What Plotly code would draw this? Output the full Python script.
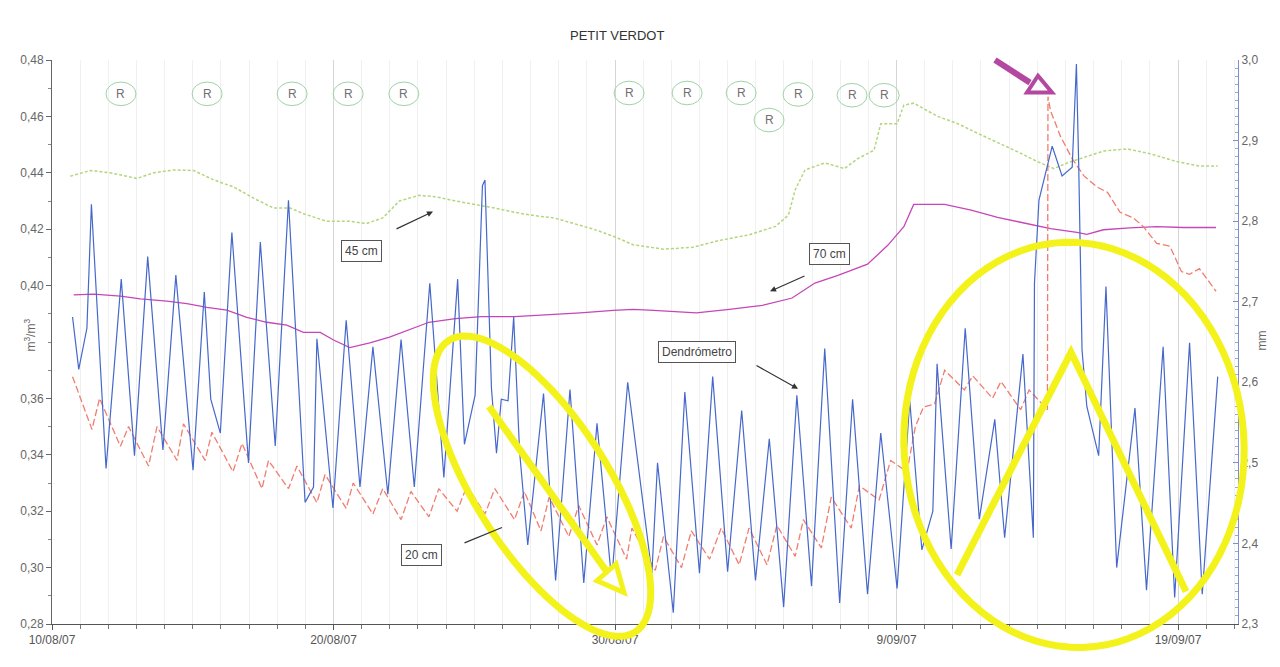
import math
import pandas as pd
import plotly.graph_objects as go

BASE = pd.Timestamp("2007-08-10")

# ---- Dendrómetro (mm, right axis): days after 10/08/07, value ----
dendro_days = [0.73, 0.95, 1.24, 1.40, 1.92, 2.46, 2.93, 3.40, 3.94, 4.40, 5.01, 5.41, 5.64, 5.98,
               6.39, 6.98, 7.40, 7.93, 8.40, 8.99, 9.29, 9.41, 9.98, 10.45, 10.94, 11.40, 11.93,
               12.40, 12.87, 13.42, 13.92, 14.41, 14.65, 15.03, 15.29, 15.38, 15.61, 15.79, 15.96,
               16.20, 16.40, 16.61, 16.90, 17.46, 17.89, 18.40, 18.89, 19.36, 19.88, 20.45, 21.31,
               21.51, 22.07, 22.48, 23.00, 23.47, 24.00, 24.50, 24.99, 25.48, 25.99, 26.46, 26.98,
               27.45, 27.98, 28.44, 28.97, 29.44, 30.02, 30.47, 30.90, 31.29, 31.44, 31.94, 32.44,
               32.94, 33.49, 33.84, 34.49, 34.86, 34.90, 35.06, 35.53, 35.88, 36.24, 36.39, 36.47,
               36.59, 36.76, 37.18, 37.44, 37.82, 38.47, 38.88, 39.47, 39.88, 40.41, 40.86, 41.41]
dendro_mm = [2.681, 2.616, 2.667, 2.821, 2.493, 2.728, 2.509, 2.756, 2.516, 2.733, 2.491, 2.712, 2.579, 2.537,
             2.786, 2.500, 2.774, 2.521, 2.826, 2.451, 2.470, 2.654, 2.444, 2.677, 2.470, 2.644, 2.461,
             2.653, 2.470, 2.723, 2.482, 2.728, 2.523, 2.584, 2.844, 2.851, 2.593, 2.512, 2.579,
             2.577, 2.681, 2.514, 2.398, 2.586, 2.354, 2.591, 2.351, 2.549, 2.354, 2.600, 2.363,
             2.500, 2.314, 2.588, 2.363, 2.607, 2.365, 2.565, 2.354, 2.530, 2.321, 2.584, 2.347,
             2.642, 2.326, 2.579, 2.337, 2.537, 2.344, 2.577, 2.392, 2.440, 2.623, 2.393, 2.667,
             2.430, 2.554, 2.407, 2.635, 2.407, 2.723, 2.826, 2.893, 2.856, 2.867, 2.995, 2.872,
             2.640, 2.570, 2.509, 2.719, 2.370, 2.568, 2.342, 2.644, 2.333, 2.649, 2.337, 2.607]

# ---- 20 cm (m3/m3) ----
s20_days = [0.73, 1.42, 1.69, 2.43, 2.72, 3.43, 3.73, 4.44, 4.67, 5.44, 5.68, 6.43, 6.75, 7.46, 7.69,
            8.40, 8.70, 9.41, 9.70, 10.45, 10.70, 11.40, 11.75, 12.40, 12.75, 13.39, 13.74, 14.39,
            14.74, 15.38, 15.73, 16.43, 16.78, 17.37, 17.66, 18.36, 18.71, 19.36, 19.71, 20.41,
            20.60, 21.43, 21.72, 22.36, 22.71, 23.36, 23.77, 24.41, 24.76, 25.40, 25.75, 26.40,
            26.69, 27.33, 27.68, 28.39, 28.68, 29.38, 29.79, 30.37, 30.67, 30.96, 31.35, 31.71,
            32.41, 32.71, 33.41, 33.71, 34.41, 34.71, 35.36, 35.38, 35.47, 35.82, 36.24, 36.65,
            37.12, 37.50, 37.94, 38.41, 38.76, 39.24, 39.71, 40.12, 40.41, 40.76, 41.35]
s20_val = [0.3677, 0.349, 0.360, 0.343, 0.350, 0.336, 0.350, 0.338, 0.351, 0.338, 0.348, 0.334, 0.344, 0.328, 0.338,
           0.328, 0.336, 0.323, 0.333, 0.321, 0.330, 0.319, 0.328, 0.317, 0.327, 0.318, 0.328, 0.320,
           0.329, 0.319, 0.328, 0.317, 0.327, 0.313, 0.325, 0.311, 0.322, 0.308, 0.318, 0.303,
           0.314, 0.299, 0.311, 0.300, 0.313, 0.303, 0.314, 0.301, 0.314, 0.301, 0.315, 0.304,
           0.317, 0.307, 0.325, 0.314, 0.329, 0.324, 0.338, 0.334, 0.350, 0.357, 0.358, 0.370,
           0.363, 0.368, 0.360, 0.366, 0.356, 0.363, 0.356, 0.467, 0.462, 0.453, 0.445, 0.439,
           0.435, 0.433, 0.426, 0.424, 0.421, 0.415, 0.414, 0.405, 0.404, 0.406, 0.398]

# ---- 45 cm ----
s45_days = [0.65, 1.36, 2.07, 3.02, 3.61, 4.32, 5.03, 5.74, 6.45, 7.16, 7.87, 8.46, 8.93, 9.76, 10.58,
            11.17, 11.75, 12.34, 13.04, 13.63, 14.33, 15.03, 15.73, 16.43, 17.13, 17.84, 18.54, 19.24,
            19.94, 20.64, 21.72, 22.77, 23.71, 24.76, 25.70, 26.16, 26.40, 26.75, 27.45, 28.15, 28.62,
            29.20, 29.44, 30.02, 30.26, 30.61, 31.46, 32.18, 32.88, 33.59, 34.29, 35.00, 35.59, 36.06,
            36.65, 37.35, 38.18, 39.00, 39.94, 40.76, 41.41]
s45_val = [0.4388, 0.4408, 0.440, 0.438, 0.440, 0.441, 0.4408, 0.4375, 0.435, 0.431, 0.4275, 0.4275, 0.4255, 0.4228, 0.4228,
           0.422, 0.424, 0.430, 0.432, 0.4315, 0.430, 0.4288, 0.4275, 0.426, 0.4248, 0.424, 0.422, 0.420,
           0.4175, 0.4145, 0.4129, 0.4136, 0.416, 0.418, 0.421, 0.425, 0.434, 0.441, 0.4435, 0.4415, 0.445,
           0.448, 0.4574, 0.4574, 0.464, 0.4647, 0.460, 0.4574, 0.454, 0.4508, 0.4475, 0.444, 0.4415, 0.4435,
           0.4455, 0.4477, 0.4485, 0.4468, 0.444, 0.4424, 0.4424]

# ---- 70 cm ----
s70_days = [0.77, 1.48, 2.43, 3.14, 4.08, 4.79, 5.50, 6.21, 6.92, 7.63, 8.34, 8.93, 9.53, 10.00, 10.58,
            11.29, 11.99, 12.69, 13.39, 14.33, 15.26, 16.43, 17.60, 18.77, 19.94, 20.64, 21.37, 22.89,
            24.06, 25.23, 26.29, 27.10, 27.92, 28.97, 29.68, 30.26, 30.61, 30.96, 31.71, 32.65, 33.59,
            34.53, 35.47, 36.41, 36.76, 37.35, 38.29, 39.24, 40.18, 41.35]
s70_val = [0.3967, 0.397, 0.3963, 0.3953, 0.3945, 0.3936, 0.3923, 0.3913, 0.3887, 0.387, 0.386, 0.3834, 0.3834, 0.3807, 0.378,
           0.3797, 0.3817, 0.3843, 0.387, 0.3883, 0.389, 0.389, 0.3896, 0.3903, 0.3912, 0.3916, 0.3912, 0.3903,
           0.3916, 0.393, 0.3956, 0.4009, 0.4036, 0.4076, 0.4142, 0.4209, 0.4288, 0.4288, 0.4288, 0.4268, 0.4242,
           0.4222, 0.4202, 0.4189, 0.4182, 0.4198, 0.4205, 0.4209, 0.4206, 0.4206]

# ---- "R" events (days after 10/08/07) and their row level (m3/m3) ----
r_days = [2.45, 5.51, 8.53, 10.52, 12.50, 20.50, 22.56, 24.48, 25.47, 26.50, 28.42, 29.56]
r_level = [0.468, 0.468, 0.468, 0.468, 0.468, 0.4683, 0.4683, 0.4683, 0.4587, 0.4678, 0.4675, 0.4675]

x_tick_dates = ["2007-08-10", "2007-08-20", "2007-08-30", "2007-09-09", "2007-09-19"]
x_tick_text = ["10/08/07", "20/08/07", "30/08/07", "9/09/07", "19/09/07"]
left_ticks = [0.28, 0.30, 0.32, 0.34, 0.36, 0.40, 0.42, 0.44, 0.46, 0.48]
left_tick_text = ["0,28", "0,30", "0,32", "0,34", "0,36", "0,40", "0,42", "0,44", "0,46", "0,48"]
right_ticks = [2.3, 2.4, 2.5, 2.6, 2.7, 2.8, 2.9, 3.0]
right_tick_text = ["2,3", "2,4", "2,5", "2,6", "2,7", "2,8", "2,9", "3,0"]


def to_dates(days):
    return BASE + pd.to_timedelta(days, unit="D")


FONT = "Liberation Sans, Arial, sans-serif"
PAGE_OFF = 8  # default body margin of the page
W, H = 1280 - 2 * PAGE_OFF, 667 - 2 * PAGE_OFF
L, R, T, B = 52, 1238, 60, 633  # plot area in screen pixels


def px(x):
    return (x - L) / (R - L)


def py(y):
    return (B - y) / (B - T)


fig = go.Figure()
fig.add_trace(go.Scatter(x=to_dates(s70_days), y=s70_val, mode="lines",
                         line=dict(color="#c646b8", width=1.3), name="70 cm"))
fig.add_trace(go.Scatter(x=to_dates(s45_days), y=s45_val, mode="lines",
                         line=dict(color="#b3d67c", width=1.5, dash="3px,2px"), name="45 cm"))
fig.add_trace(go.Scatter(x=to_dates(s20_days), y=s20_val, mode="lines",
                         line=dict(color="#f07d6e", width=1.3, dash="7px,3px"), name="20 cm"))
fig.add_trace(go.Scatter(x=to_dates(dendro_days), y=dendro_mm, mode="lines", yaxis="y2",
                         line=dict(color="#4668cb", width=1.2), name="Dendrómetro"))

shapes = []
annotations = []


def ann(x, y, text, **kw):
    d = dict(x=px(x), y=py(y), xref="paper", yref="paper", text=text, showarrow=False,
             xanchor="center", yanchor="middle")
    d.update(kw)
    annotations.append(d)


# R circles
TOTAL_DAYS = 42.13
x_end = BASE + pd.Timedelta(days=TOTAL_DAYS)
day_px = (R - L) / TOTAL_DAYS
for d, lv in zip(r_days, r_level):
    cx = L + d * day_px
    cy = T + (0.48 - lv) / 0.2 * (B - T)
    shapes.append(dict(type="circle", xref="paper", yref="paper",
                       x0=px(cx - 15), x1=px(cx + 15), y0=py(cy + 12), y1=py(cy - 12),
                       line=dict(color="#9fd3a6", width=1), layer="above"))
    ann(cx, cy, "R", font=dict(family=FONT, size=12, color="#707070"))


def ellipse_path(cx, cy, a, b, ang_deg, n=90):
    th = math.radians(ang_deg)
    pts = []
    for i in range(n + 1):
        t = 2 * math.pi * i / n
        X = cx + a * math.cos(t) * math.cos(th) - b * math.sin(t) * math.sin(th)
        Y = cy + a * math.cos(t) * math.sin(th) + b * math.sin(t) * math.cos(th)
        pts.append((px(X), py(Y)))
    return "M " + " L ".join(f"{x:.5f},{y:.5f}" for x, y in pts) + " Z"


def poly_path(points, close=False):
    s = "M " + " L ".join(f"{px(x):.5f},{py(y):.5f}" for x, y in points)
    return s + (" Z" if close else "")


YEL = "#f3f21b"
shapes.append(dict(type="path", xref="paper", yref="paper", path=ellipse_path(542, 493, 175, 67, 58),
                   line=dict(color=YEL, width=7), layer="above"))
shapes.append(dict(type="path", xref="paper", yref="paper", path=poly_path([(489, 412), (609, 583)]),
                   line=dict(color=YEL, width=7), layer="above"))
shapes.append(dict(type="path", xref="paper", yref="paper",
                   path=poly_path([(597, 589), (624, 601), (616, 572)], close=True),
                   line=dict(color=YEL, width=5), fillcolor="white", layer="above"))
shapes.append(dict(type="path", xref="paper", yref="paper", path=ellipse_path(1074, 451, 170, 206, -4),
                   line=dict(color=YEL, width=7), layer="above"))
shapes.append(dict(type="path", xref="paper", yref="paper",
                   path=poly_path([(957, 583), (1071, 357), (1186, 600)]),
                   line=dict(color=YEL, width=7), layer="above"))

# magenta arrow
MAG = "#b4479f"
shapes.append(dict(type="path", xref="paper", yref="paper", path=poly_path([(995, 60), (1030, 83)]),
                   line=dict(color=MAG, width=6), layer="above"))
shapes.append(dict(type="path", xref="paper", yref="paper",
                   path=poly_path([(1038, 76), (1052, 93), (1027, 93)], close=True),
                   line=dict(color=MAG, width=4), fillcolor="white", layer="above"))

# label boxes and their arrows
boxes = [("45 cm", 361, 254), ("70 cm", 829, 257), ("20 cm", 421, 563), ("Dendrómetro", 697, 357)]
for txt, cx, cy in boxes:
    ann(cx, cy, txt, font=dict(family=FONT, size=12, color="#444"), bgcolor="white",
        bordercolor="#555", borderwidth=1, borderpad=3)
arrows = [((395, 232), (433, 214), 2), ((806, 279), (770, 295), 2), ((463, 551), (502, 535), 0),
          ((755, 370), (798, 394), 2)]
for (tx, ty), (hx, hy), head in arrows:
    annotations.append(dict(x=px(hx), y=py(hy), xref="paper", yref="paper", ax=tx - hx, ay=ty - hy,
                            axref="pixel", ayref="pixel", text="", showarrow=True, arrowhead=head,
                            arrowsize=1, arrowwidth=1.2, arrowcolor="#333"))

# title and axis titles
ann(617, 35, "PETIT VERDOT", font=dict(family=FONT, size=13, color="#333"))
ann(30, 340, "m<sup>3</sup>/m<sup>3</sup>", textangle=-90, font=dict(family=FONT, size=12, color="#666"))
ann(1262, 345, "mm", textangle=-90, font=dict(family=FONT, size=12, color="#666"))

fig.update_layout(
    width=W, height=H, autosize=False,
    margin=dict(l=L - PAGE_OFF, r=(W + PAGE_OFF) - R, t=T - PAGE_OFF, b=(H + PAGE_OFF) - B, pad=0),
    paper_bgcolor="white", plot_bgcolor="white", showlegend=False,
    shapes=shapes, annotations=annotations,
    xaxis=dict(type="date", range=[BASE, x_end], tickmode="array", tickvals=x_tick_dates,
               ticktext=x_tick_text, showgrid=True, gridcolor="#d6d6d6", gridwidth=1,
               ticks="outside", ticklen=5, tickcolor="#555", showline=True, linecolor="#555",
               tickfont=dict(family=FONT, size=12, color="#555"), zeroline=False,
               minor=dict(tick0="2007-08-10", dtick=86400000, showgrid=True, gridcolor="#f0f0f0",
                          ticks="outside", ticklen=4, tickcolor="#777")),
    yaxis=dict(range=[0.28, 0.48], tickmode="array", tickvals=left_ticks, ticktext=left_tick_text,
               showgrid=False, zeroline=False, showline=True, linecolor="#666",
               ticks="outside", ticklen=5, tickcolor="#666",
               tickfont=dict(family=FONT, size=12, color="#666"),
               minor=dict(dtick=0.01, ticks="outside", ticklen=3, tickcolor="#888")),
    yaxis2=dict(range=[2.3, 3.0], overlaying="y", side="right", tickmode="array", tickvals=right_ticks,
                ticktext=right_tick_text, showgrid=False, zeroline=False, showline=True,
                linecolor="#7d8fcf", ticks="inside", ticklen=5, tickcolor="#7d8fcf",
                tickfont=dict(family=FONT, size=12, color="#666"),
                minor=dict(dtick=0.01, ticks="inside", ticklen=3, tickcolor="#9aa6d8")),
)

fig.write_html("out.html")
